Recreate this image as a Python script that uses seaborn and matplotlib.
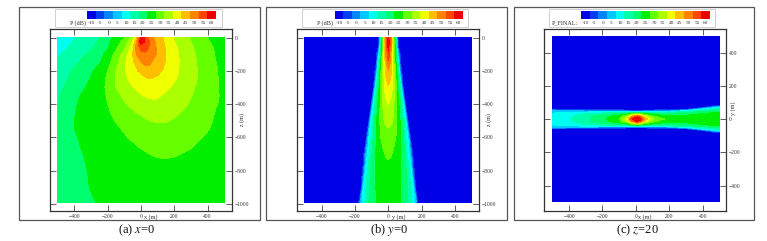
import numpy as np
import seaborn as sns
import matplotlib
matplotlib.use("Agg")
import matplotlib.pyplot as plt
from matplotlib.colors import ListedColormap
from matplotlib.patches import Rectangle

# band colours of the legend, one per label
band_colors = ["#0000e6", "#0040f0", "#0084fa", "#00c8ff", "#00fff0", "#00ffaa",
               "#00ff6e", "#00f000", "#66ff00", "#aaff00", "#f0ff00",
               "#ffbe00", "#ff8200", "#ff4600", "#f00000"]
band_labels = [-10, -5, 0, 5, 10, 15, 20, 25, 30, 35, 40, 45, 50, 55, 60]
band_edges = [-12.5, -7.5, -2.5, 2.5, 7.5, 12.5, 17.5, 22.5, 27.5, 32.5, 37.5, 42.5,
              47.5, 52.5, 57.5, 62.5]

# panel (a), x=0
a_x = [-500, -400, -300, -250, -200, -150, -100, -75, -50, -25, 0, 25, 50, 75, 100, 150, 200, 250, 300, 350, 400, 450, 500]
a_z = [0, -25, -50, -75, -100, -150, -200, -250, -300, -350, -400, -450, -500, -550, -600, -650, -700, -800, -900, -990]
a_p = [
    [10, 12.4, 15.8, 17.4, 20.6, 23.9, 27.4, 30.4, 34.5, 42, 60, 57, 51.8, 47.6, 45.2, 41, 37, 34.5, 32.1, 29.8, 27.5, 25.7, 24],
    [10.6, 12.7, 16, 18, 21.3, 25, 29.5, 33, 37.5, 48, 61, 57, 52.2, 48.5, 45.7, 41.3, 37.5, 35, 32.5, 30.2, 28, 26, 24.5],
    [11, 13.2, 16.6, 18.9, 21.9, 26, 31, 34.6, 40.3, 50, 55.3, 55, 52.3, 49, 46.4, 41.9, 38.2, 35.5, 33, 30.8, 28.6, 26.7, 25],
    [11.5, 13.7, 17.4, 19.9, 22.7, 27.5, 32.5, 36.7, 41.7, 49.2, 53, 53.4, 51.5, 49.1, 46.7, 42.2, 38.7, 35.8, 33.4, 31.1, 29, 27, 25.3],
    [12, 14.9, 18.5, 20.8, 24, 29, 34.6, 38.3, 42.5, 48.2, 50.5, 51.5, 50, 48.5, 47, 42.4, 39, 36.1, 33.7, 31.4, 29.2, 27.1, 25.5],
    [12.9, 16.5, 20.5, 22, 25.6, 30.8, 36.6, 39.3, 42, 43.5, 47, 48.8, 48.2, 46.6, 45.1, 42.2, 39.2, 36.4, 34, 31.8, 29.7, 27.6, 25.7],
    [14.5, 18.2, 21.8, 24.4, 27.5, 32.5, 37, 38.8, 40.5, 42.1, 43.8, 45.5, 46.5, 45, 43.8, 41.3, 38.7, 36.4, 34.1, 32, 30, 27.9, 26],
    [15.5, 18.9, 22.9, 25, 28.3, 33, 36.2, 37.7, 38.6, 39.5, 40.3, 41.3, 42.4, 42, 41.5, 39.9, 38, 36, 34, 32, 30, 28, 26.2],
    [16.4, 19.6, 24, 25.9, 28.3, 32.5, 35.1, 36.3, 37.3, 38.1, 38.7, 39.3, 39.8, 40.3, 40.2, 38.3, 36.7, 35, 33.3, 31.6, 29.8, 28, 26.5],
    [17, 21.5, 24.6, 26.2, 27.8, 31, 33.4, 34.4, 35.2, 36, 37.2, 37.8, 38.1, 38.3, 38, 36.7, 35.2, 33.9, 32.7, 31.2, 29.6, 28, 26.7],
    [17.2, 22, 24.7, 26.2, 27.5, 29.4, 31.9, 33, 33.9, 34.6, 35.1, 35.6, 36, 36.4, 36.5, 36, 34.8, 33.4, 32, 30.6, 29.2, 27.7, 26.8],
    [17.4, 22.3, 24.7, 25.9, 27, 28.5, 30, 30.8, 31.7, 32.6, 33.1, 33.5, 33.9, 34.3, 34.6, 34, 33.3, 32.1, 30.8, 29.8, 28.6, 27.3, 26.5],
    [17.4, 22.5, 24.5, 25.5, 26.6, 27.7, 29, 29.6, 30.1, 30.7, 31.4, 32, 32.5, 32.7, 32.9, 32.8, 32.1, 31, 30, 29.1, 28.1, 27.1, 26.2],
    [17.7, 22.5, 24.2, 25, 25.9, 26.9, 27.9, 28.4, 28.9, 29.3, 29.8, 30.2, 30.6, 31, 31.2, 31.4, 31, 30.3, 29.4, 28.6, 27.7, 26.8, 25.9],
    [17.9, 22.2, 23.7, 24.4, 25.1, 25.9, 27, 27.7, 28, 28.4, 28.7, 29, 29.3, 29.7, 30, 30.2, 29.8, 29.2, 28.4, 27.8, 27, 26.2, 25.5],
    [18, 22, 23.5, 24, 24.6, 25.2, 25.9, 26.3, 27, 27.5, 27.8, 28.1, 28.4, 28.7, 28.9, 29, 28.7, 28.2, 27.8, 27, 26.5, 25.8, 25],
    [18.3, 21.7, 23.2, 23.7, 24.2, 24.7, 25.3, 25.7, 26.1, 26.5, 26.9, 27.2, 27.5, 27.7, 27.9, 28, 27.8, 27.4, 27, 26.5, 26, 25.4, 24.8],
    [18.5, 20.8, 23, 23.5, 24, 24.4, 24.8, 25, 25.2, 25.4, 25.6, 25.7, 25.9, 26, 26.1, 26.2, 26.1, 25.9, 25.6, 25.3, 24.9, 24.5, 24],
    [18.5, 20, 22.8, 23.3, 23.7, 24, 24.3, 24.4, 24.5, 24.6, 24.7, 24.8, 24.9, 25, 25, 25, 25, 24.9, 24.7, 24.5, 24.2, 23.9, 23.6],
    [18.5, 19.7, 21.9, 23, 23.3, 23.6, 23.8, 23.9, 24, 24.1, 24.2, 24.3, 24.3, 24.4, 24.4, 24.4, 24.4, 24.3, 24.2, 24, 23.8, 23.6, 23.3],
]

# panel (b), y=0, read on one side of the beam
b_y = [0, 15, 30, 45, 60, 75, 90, 105, 120, 135, 150, 165, 180, 195, 500]
b_z = [0, -25, -50, -100, -150, -200, -300, -400, -500, -600, -700, -800, -900, -990]
b_p = [
    [58, 50, 32, 13, -12, -12, -12, -12, -12, -12, -12, -12, -12, -12, -12],
    [62, 50, 34, 15, -10, -12, -12, -12, -12, -12, -12, -12, -12, -12, -12],
    [60, 49, 34, 17, -10, -12, -12, -12, -12, -12, -12, -12, -12, -12, -12],
    [56, 48, 35, 20, 3, -12, -12, -12, -12, -12, -12, -12, -12, -12, -12],
    [52, 46, 35, 23, 10, -11, -12, -12, -12, -12, -12, -12, -12, -12, -12],
    [47, 44, 36, 27, 15, -5, -12, -12, -12, -12, -12, -12, -12, -12, -12],
    [42, 40, 36, 29, 20, 12, -10, -12, -12, -12, -12, -12, -12, -12, -12],
    [37.5, 36, 33.5, 29, 24, 17, 10, -11, -12, -12, -12, -12, -12, -12, -12],
    [34, 33.5, 32, 29, 25.5, 21, 15, 8, -11, -12, -12, -12, -12, -12, -12],
    [30.5, 30, 29, 27.5, 25, 22, 18, 12, 6, -11, -12, -12, -12, -12, -12],
    [28, 27.8, 27, 26, 24.5, 22.5, 20, 15, 10, 2, -11, -12, -12, -12, -12],
    [26.5, 26.3, 26, 25, 24, 22.5, 20.5, 18, 14, 10, -5, -12, -12, -12, -12],
    [25, 25, 24.7, 24, 23.5, 22.5, 21, 19, 16, 12, 8, -11, -12, -12, -12],
    [24, 24, 23.8, 23.4, 23, 22.3, 21, 19.5, 17, 14, 10, 5, -12, -12, -12],
]

# panel (c), z=20, read on one side of the beam
c_x = [-500, -400, -300, -200, -100, -50, -25, 0, 10, 25, 50, 100, 150, 200, 300, 400, 500]
c_y = [0, 10, 20, 30, 40, 50, 60, 70, 80, 90, 495]
c_p = [
    [10, 12, 16, 21, 27, 40, 56, 62, 63, 60, 48, 33, 28, 27, 25, 25, 25],
    [10, 12, 16, 21, 26, 37, 50, 59, 60, 56, 44, 31, 27, 26, 24, 24, 25],
    [9, 11, 15, 19.5, 24, 31, 40, 50, 51, 46, 35, 27, 24, 23.5, 23, 24, 25],
    [8, 10, 13, 15.5, 19, 23, 28, 33, 34, 31, 26, 22, 20, 20, 21, 23, 24.5],
    [7, 8, 9.5, 11, 13, 14, 15, 16, 16, 15, 14, 13, 13, 14, 17, 21, 23],
    [5, 3, 1, 0, -2, -5, -6, -6, -6, -6, -5, -4, -3, 0, 8, 14, 20],
    [-11, -12, -12, -12, -12, -12, -12, -12, -12, -12, -12, -12, -12, -12, -10, 8, 14],
    [-12, -12, -12, -12, -12, -12, -12, -12, -12, -12, -12, -12, -12, -12, -12, -8, 10],
    [-12, -12, -12, -12, -12, -12, -12, -12, -12, -12, -12, -12, -12, -12, -12, -12, -6],
    [-12, -12, -12, -12, -12, -12, -12, -12, -12, -12, -12, -12, -12, -12, -12, -12, -12],
    [-12, -12, -12, -12, -12, -12, -12, -12, -12, -12, -12, -12, -12, -12, -12, -12, -12],
]

x_ticks = [-400, -200, 0, 200, 400]
z_ticks = [0, -200, -400, -600, -800, -1000]
y_ticks = [400, 200, 0, -200, -400]

W, H = 767, 241
TEXT = "#333333"

sns.set_theme(style="ticks")
plt.rcParams["font.family"] = ["Liberation Serif", "DejaVu Serif"]
plt.rcParams["mathtext.fontset"] = "stix"

fig = plt.figure(figsize=(W / 100, H / 100), dpi=100, facecolor="white")
cmap = ListedColormap(band_colors)


def px_axes(left, top, right, bottom):
    return fig.add_axes([left / W, 1 - bottom / H, (right - left) / W, (bottom - top) / H])


def draw_frame(left, top, right, bottom, color, lw):
    fig.add_artist(Rectangle((left / W, 1 - bottom / H), (right - left) / W, (bottom - top) / H,
                             transform=fig.transFigure, fill=False, edgecolor=color, linewidth=lw))


def draw_legend(box, strip, name, name_right):
    draw_frame(box[0], 9, box[1], 26.5, "#c8c8c8", 0.6)
    cax = px_axes(strip[0], 10.8, strip[1], 18.8)
    sns.heatmap(np.array([band_labels]), cmap=cmap, vmin=-12.5, vmax=62.5, cbar=False, ax=cax,
                xticklabels=band_labels, yticklabels=False)
    cax.tick_params(axis="x", length=0, pad=1.6, labelsize=3.9, labelcolor=TEXT, labelrotation=0)
    fig.text(name_right / W, 1 - 23 / H, name, ha="right", va="center", fontsize=4.4, color=TEXT)


def draw_panel(rect, xlim, ylim, xs, ys, values, yticks, xlabel, xlabel_px, ylabel, ylabel_px):
    ax = px_axes(*rect)
    ax.contourf(xs, ys, values, levels=band_edges, colors=band_colors)
    ax.set_xlim(*xlim)
    ax.set_ylim(*ylim)
    ax.set_xticks(x_ticks)
    ax.set_yticks(yticks)
    ax.tick_params(axis="both", direction="in", length=4.2, width=0.6, color="#444444",
                   top=True, bottom=True, left=True, right=True,
                   labelleft=False, labelright=True, labelsize=4, labelcolor=TEXT, pad=2)
    ax.tick_params(axis="x", pad=2.4)
    for spine in ax.spines.values():
        spine.set_linewidth(0.9)
        spine.set_color("#333333")
    fig.text(xlabel_px / W, 1 - 216.8 / H, xlabel, ha="left", va="center", fontsize=4.4, color=TEXT)
    fig.text(ylabel_px[0] / W, 1 - ylabel_px[1] / H, ylabel, rotation=90, ha="center", va="center",
             fontsize=4.4, color=TEXT)
    return ax


# (a)
draw_frame(19, 7.3, 259.5, 220.3, "#555555", 0.9)
draw_legend((55.3, 221.7), (87.3, 215.7), "P (dB)", 86)
draw_panel((49.8, 29.3, 231.7, 210.8), (-548, 545), (-1042, 50), a_x, a_z, a_p, z_ticks,
           "x (m)", 144, "z (m)", (241.7, 120))
fig.text(137 / W, 1 - 230 / H, "(a) $\\mathit{x}$=0", ha="center", va="center", fontsize=9, color="#111111")

# (b)
b_cols = [-v for v in b_y[:0:-1]] + b_y
b_rows = [row[:0:-1] + row for row in b_p]
draw_frame(266.3, 7.3, 507, 220.3, "#555555", 0.9)
draw_legend((302.3, 468.3), (334.7, 462.7), "P (dB)", 333)
draw_panel((296.7, 29.3, 479, 210.8), (-549, 543), (-1042, 50), b_cols, b_z, b_rows, z_ticks,
           "y (m)", 392, "z (m)", (489, 120))
fig.text(389 / W, 1 - 230 / H, "(b) $\\mathit{y}$=0", ha="center", va="center", fontsize=9, color="#111111")

# (c)
c_rows_y = [-v for v in c_y[:0:-1]] + c_y
c_rows = c_p[:0:-1] + c_p
draw_frame(514, 7.3, 754, 220.3, "#555555", 0.9)
draw_legend((549.3, 715.3), (581.3, 709.7), "P_FINAL:", 577.7)
draw_panel((543.7, 29.3, 726, 210.8), (-552, 540), (-552, 540), c_x, c_rows_y, c_rows, y_ticks,
           "x (m)", 638, "y (m)", (733, 108))
fig.text(637.7 / W, 1 - 230 / H, "(c) $\\mathit{z}$=20", ha="center", va="center", fontsize=9, color="#111111")

fig.savefig("out.png", dpi=100)
